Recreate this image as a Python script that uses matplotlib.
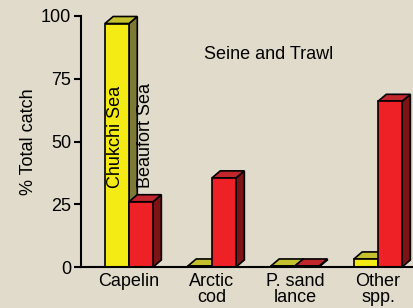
import matplotlib
matplotlib.use("Agg")
import matplotlib.pyplot as plt
from matplotlib.patches import Polygon

plt.rcParams['font.family'] = ['Liberation Sans', 'DejaVu Sans']

categories = ["Capelin", "Arctic\ncod", "P. sand\nlance", "Other\nspp."]
chukchi = [97, 0.4, 0.4, 3.2]
beaufort = [26, 35.5, 0.4, 66]

bg = '#e0dbcb'
yellow = ('#f5eb14', '#c4c02e', '#7c7a34')   # front, top, side
red = ('#ee2226', '#c0262c', '#7c1416')

w = 0.29      # bar width (data units)
dx = 0.10     # depth in x
dy = 2.8      # depth in y


def bar3d(ax, x0, h, cols):
    front, top, side = cols
    x1 = x0 + w
    kw = dict(edgecolor='black', linewidth=1.2, joinstyle='miter', clip_on=False)
    ax.add_patch(Polygon([(x1, 0), (x1 + dx, dy), (x1 + dx, h + dy), (x1, h)], facecolor=side, **kw))
    ax.add_patch(Polygon([(x0, h), (x0 + dx, h + dy), (x1 + dx, h + dy), (x1, h)], facecolor=top, **kw))
    ax.add_patch(Polygon([(x0, 0), (x1, 0), (x1, h), (x0, h)], facecolor=front, **kw))


fig = plt.figure(figsize=(4.14, 3.08), dpi=100, facecolor=bg)
ax = fig.add_axes([81 / 414, 41 / 308, 333 / 414, 251 / 308])
ax.set_facecolor(bg)

for i in range(len(categories)):
    bar3d(ax, i - w, chukchi[i], yellow)
    bar3d(ax, i, beaufort[i], red)

ax.set_xlim(-0.578, 3.434)
ax.set_ylim(0, 100)
ax.set_yticks([0, 25, 50, 75, 100])
ax.set_xticks(range(len(categories)))
ax.set_xticklabels(categories, fontsize=13, linespacing=0.95)
ax.tick_params(axis='x', length=0, pad=4)
ax.tick_params(axis='y', length=5, width=1.5, labelsize=13, pad=2)
for s in ['top', 'right']:
    ax.spines[s].set_visible(False)
ax.spines['left'].set_linewidth(1.5)
ax.spines['bottom'].set_linewidth(1.5)
ax.set_ylabel("% Total catch", fontsize=13, labelpad=3)

ax.text(-0.157, 31.5, "Chukchi Sea", rotation=90, ha='center', va='bottom', fontsize=13)
ax.text(0.205, 31.5, "Beaufort Sea", rotation=90, ha='center', va='bottom', fontsize=13)
ax.text(1.687, 84.5, "Seine and Trawl", ha='center', va='center', fontsize=13)

fig.savefig("out.png", dpi=100, facecolor=bg)
